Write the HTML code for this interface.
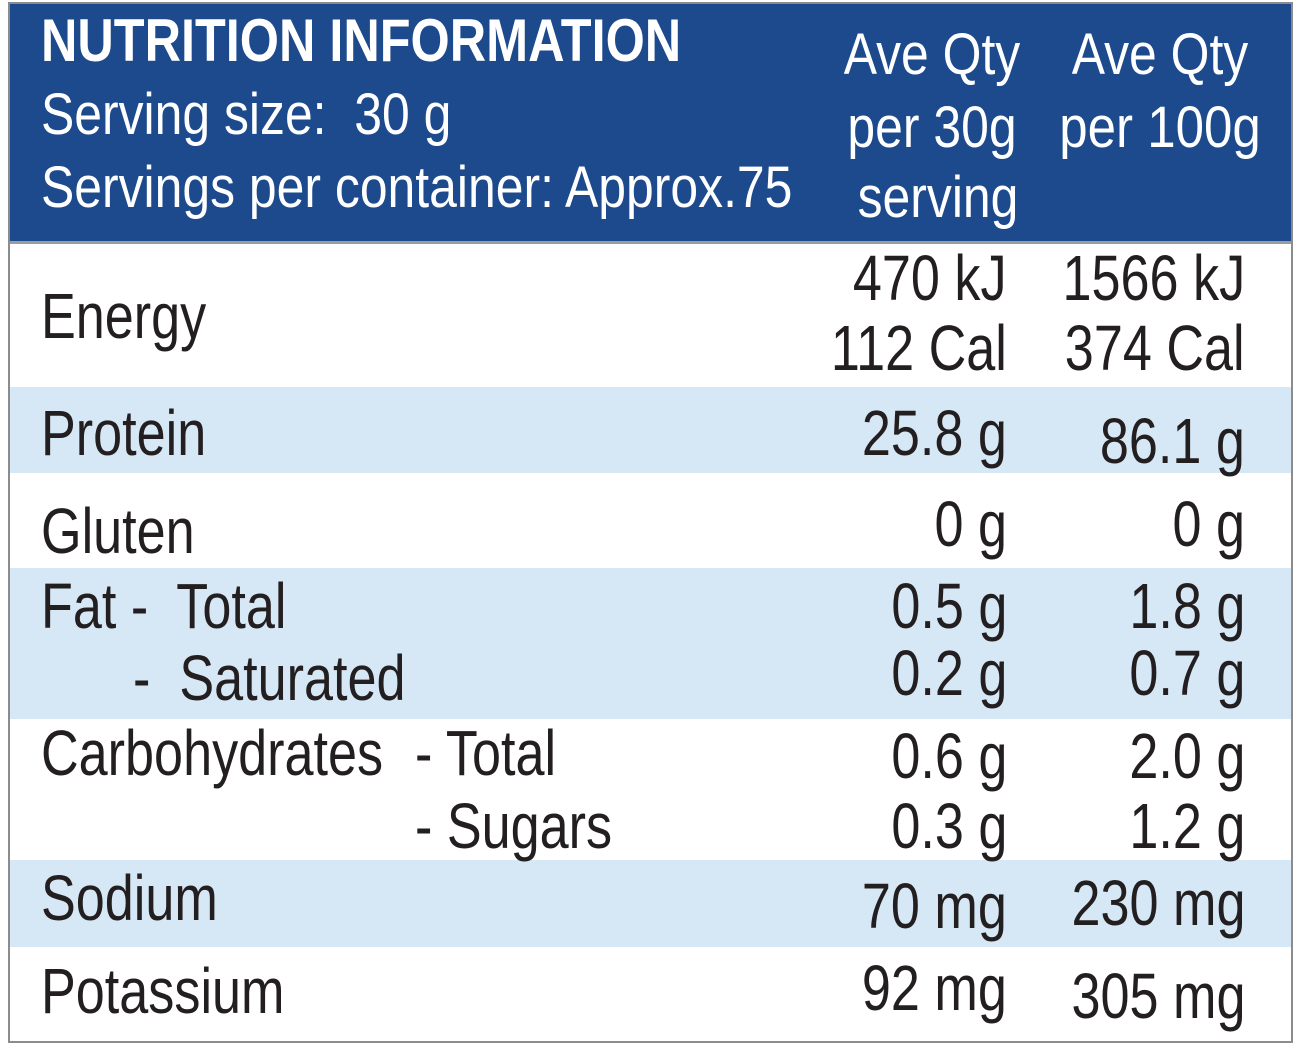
<!DOCTYPE html>
<html><head><meta charset="utf-8"><style>
body{margin:0;width:1303px;height:1052px;background:#fff;overflow:hidden;position:relative;font-family:"Liberation Sans",sans-serif;}
.t{position:absolute;white-space:pre;line-height:1;color:#231f20;transform-origin:left top;}
.r{transform-origin:right top;text-align:right;}
.c{transform-origin:center top;text-align:center;}
.w{color:#fff;}
.band{position:absolute;left:10px;width:1281px;}
</style></head><body>
<div style="position:absolute;left:8px;top:2px;width:1281px;height:1037px;border:2px solid #8a8c8e;"></div>
<div class="band" style="top:4px;height:237px;background:#1c4a8c;"></div>
<div class="band" style="top:241px;height:3px;background:#9a9c9e;"></div>
<div class="band" style="top:387px;height:86px;background:#d6e7f5;"></div>
<div class="band" style="top:568px;height:151px;background:#d6e7f5;"></div>
<div class="band" style="top:860px;height:87px;background:#d6e7f5;"></div>
<script>
const items=[
['NUTRITION INFORMATION',41,62,60,'l',1,'title',0.84],
['Serving size:  30 g',41,135,58,'l',0,'serving-size',0.86],
['Servings per container: Approx.75',41,208,58,'l',0,'servings-per-container',0.86],
['Ave Qty',932,75,58,'c',0,'col1-header',0.86],
['per 30g',932,148,58,'c',0,'col1-header',0.86],
['serving',938,218,58,'c',0,'col1-header',0.86],
['Ave Qty',1160,75,58,'c',0,'col2-header',0.86],
['per 100g',1160,148,58,'c',0,'col2-header',0.88],
['Energy',41,338,64,'l',0,'row-label'],
['470 kJ',1007,300,64,'r',0,'value'],['112 Cal',1007,370,64,'r',0,'value'],
['1566 kJ',1245,300,64,'r',0,'value'],['374 Cal',1245,370,64,'r',0,'value'],
['Protein',41,455,64,'l',0,'row-label'],
['25.8 g',1007,455,64,'r',0,'value'],['86.1 g',1245,463,64,'r',0,'value'],
['Gluten',41,553,64,'l',0,'row-label'],
['0 g',1007,546,64,'r',0,'value'],['0 g',1245,546,64,'r',0,'value'],
['Fat -  Total',41,628,64,'l',0,'row-label'],
['-  Saturated',133,700,64,'l',0,'row-label'],
['0.5 g',1007,628,64,'r',0,'value'],['0.2 g',1007,695,64,'r',0,'value'],
['1.8 g',1245,628,64,'r',0,'value'],['0.7 g',1245,695,64,'r',0,'value'],
['Carbohydrates',41,775,64,'l',0,'row-label'],
['- Total',415,775,64,'l',0,'row-label'],
['- Sugars',415,848,64,'l',0,'row-label'],
['0.6 g',1007,778,64,'r',0,'value'],['0.3 g',1007,848,64,'r',0,'value'],
['2.0 g',1245,778,64,'r',0,'value'],['1.2 g',1245,848,64,'r',0,'value'],
['Sodium',41,920,64,'l',0,'row-label'],
['70 mg',1007,928,64,'r',0,'value'],['230 mg',1245,925,64,'r',0,'value'],
['Potassium',41,1013,64,'l',0,'row-label'],
['92 mg',1007,1010,64,'r',0,'value'],['305 mg',1245,1018,64,'r',0,'value']
];
items.forEach((it,i)=>{
 const [s,x,b,fs,al,bold,name,sc]=it;
 const d=document.createElement('div');
 
 
 d.className='t'+(al==='r'?' r':al==='c'?' c':'')+(i<8?' w':'');
 d.textContent=s;
 d.style.fontSize=fs+'px';
 d.style.transform='scaleX('+(sc||0.815)+')';
 d.style.top=(b-0.847*fs)+'px';
 if(bold)d.style.fontWeight='bold';
 if(al==='l')d.style.left=x+'px';
 else if(al==='r')d.style.right=(1303-x)+'px';
 else{d.style.left=(x-300)+'px';d.style.width='600px';}
 document.body.appendChild(d);
});
</script>
</body></html>
